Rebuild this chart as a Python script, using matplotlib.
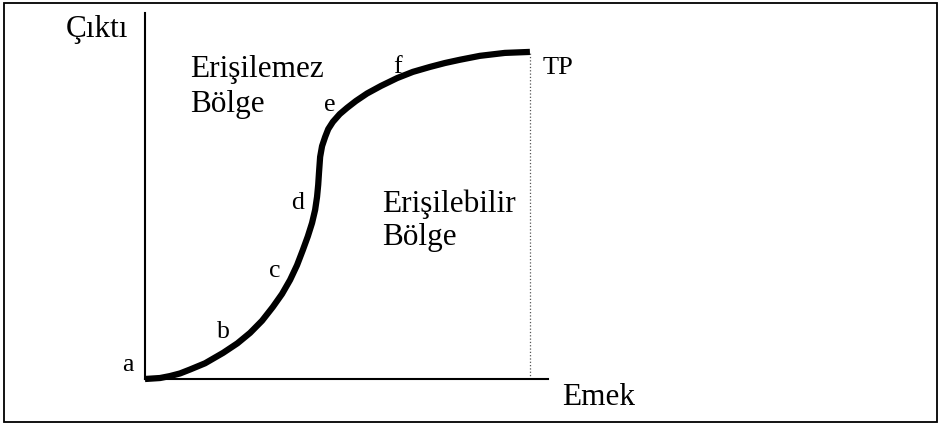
import matplotlib.pyplot as plt
from matplotlib.patches import Rectangle

# Toplam ürün eğrisi (emek, çıktı)
emek = [0, 3.9, 6.5, 9.1, 11.7, 15.6, 20.3, 24.0, 27.3, 30.4, 33.2, 35.6, 37.7,
        39.5, 41.0, 42.3, 43.4, 44.2, 44.7, 45.0, 45.2, 45.5, 46.0, 46.8, 47.6,
        48.8, 50.6, 52.5, 54.8, 57.7, 61.3, 65.5, 69.6, 74.0, 77.9, 81.8, 87.0,
        93.5, 100]
cikti = [0, 0.3, 0.9, 1.7, 2.9, 4.8, 8.0, 10.9, 14.1, 17.8, 22.0, 26.0, 30.3,
         34.8, 39.4, 43.6, 47.7, 51.7, 55.7, 59.4, 63.0, 67.9, 71.2, 74.0, 76.4,
         78.6, 81.0, 82.9, 85.0, 87.3, 89.6, 92.0, 93.9, 95.4, 96.6, 97.6, 98.8,
         99.7, 100]

# noktalar ve konumları
nokta_harf = ['a', 'b', 'c', 'd', 'e', 'f']
nokta_x = [-4.4, 20.3, 33.8, 39.7, 48.1, 65.7]
nokta_y = [2.4, 12.5, 31.2, 52.0, 82.0, 93.6]

fig = plt.figure(figsize=(9.41, 4.25), dpi=100)
plt.rcParams['font.family'] = ['Liberation Serif', 'DejaVu Serif']

# çerçeve
fig.patches.append(Rectangle((4 / 941, 3 / 425), 933 / 941, 419 / 425,
                             transform=fig.transFigure, fill=False,
                             edgecolor='black', linewidth=1.3))

ax = fig.add_axes([145 / 941, 46 / 425, 403 / 941, 366 / 425])
ax.set_xlim(0, 104.7)
ax.set_ylim(0, 111.9)
for s in ['top', 'right']:
    ax.spines[s].set_visible(False)
for s in ['left', 'bottom']:
    ax.spines[s].set_linewidth(1.5)
ax.set_xticks([])
ax.set_yticks([])
ax.patch.set_alpha(0)

ax.plot(emek, cikti, color='black', linewidth=4.5, solid_capstyle='butt',
        solid_joinstyle='round', clip_on=False)
ax.plot([emek[-1], emek[-1]], [0, cikti[-1]], color='#555555', linestyle=':',
        linewidth=0.9)

for h, x, y in zip(nokta_harf, nokta_x, nokta_y):
    ax.text(x, y, h, fontsize=18.5, ha='center', va='baseline', clip_on=False)

ax.text(103.4, 93.3, 'TP', fontsize=19, ha='left', va='baseline', clip_on=False)
ax.text(-20.5, 104.6, 'Çıktı', fontsize=22.5, ha='left', va='baseline', clip_on=False)
ax.text(108.3, -8.0, 'Emek', fontsize=22.5, ha='left', va='baseline', clip_on=False)

# bölge yazıları
ax.text(11.7, 92.4, 'Erişilemez', fontsize=22.5, ha='left', va='baseline', clip_on=False)
ax.text(11.7, 81.7, 'Bölge', fontsize=22.5, ha='left', va='baseline', clip_on=False)
ax.text(61.6, 51.1, 'Erişilebilir', fontsize=22.5, ha='left', va='baseline', clip_on=False)
ax.text(61.6, 41.0, 'Bölge', fontsize=22.5, ha='left', va='baseline', clip_on=False)

plt.savefig('out.png', dpi=100)
